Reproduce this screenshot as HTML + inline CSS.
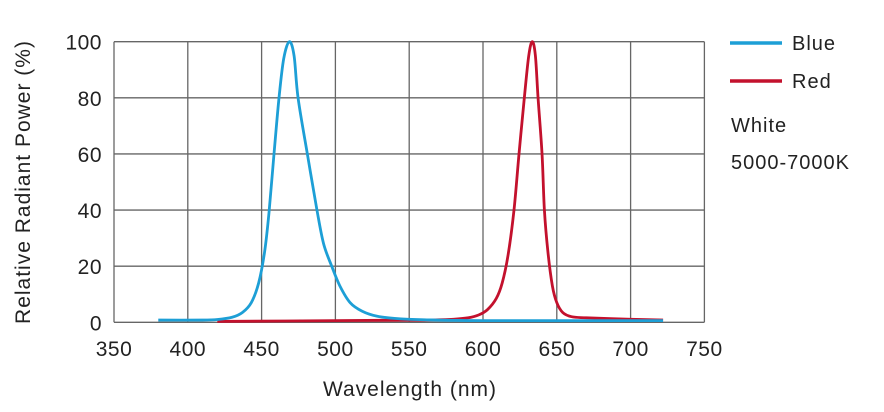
<!DOCTYPE html>
<html><head><meta charset="utf-8"><style>
body{margin:0;background:#fff;}
svg{display:block;font-family:"Liberation Sans",sans-serif;fill:#222;}
</style></head><body>
<svg id="chart" width="884" height="412" viewBox="0 0 884 412">
<g id="grid"></g>
<g id="yticks" font-size="21" text-anchor="end" letter-spacing="0.5"></g>
<g id="xticks" font-size="21" text-anchor="middle" letter-spacing="0.5"></g>
<g id="series"></g>
<text transform="translate(30,182) rotate(-90)" text-anchor="middle" font-size="21" letter-spacing="1">Relative Radiant Power (%)</text>
<text x="410" y="396" text-anchor="middle" font-size="21" letter-spacing="1">Wavelength (nm)</text>
<g font-size="20" letter-spacing="1">
<line x1="730" y1="43" x2="782" y2="43" stroke="#1d9fd6" stroke-width="3.5"/>
<text x="792" y="50">Blue</text>
<line x1="730" y1="81" x2="782" y2="81" stroke="#c3112d" stroke-width="3.5"/>
<text x="792" y="88">Red</text>
<text x="731" y="132">White</text>
<text x="731" y="169">5000-7000K</text>
</g>
</svg>
<script>
const xTicks=[350,400,450,500,550,600,650,700,750];
const yTicks=[0,20,40,60,80,100];
const blueWl=[380,410,420,430,437,443,448,452,455,458.4,461.8,465,468.8,472,474.7,481,487.5,492,497.5,503,510,518,528,540,560,600,722];
const blueVal=[0.8,0.8,1,1.8,3.5,7,14,25,39,60,80,94,100,95,80,60,40,28,20,13,7,4,2.2,1.4,0.9,0.6,0.6];
const redWl=[420,500,560,580,590,597,603,609,613,617,621,624.4,628,631,633.4,635.5,637.3,640,641.6,644,647,650,654,660,670,700,722];
const redVal=[0.3,0.6,0.8,1.1,1.6,2.6,4.5,8.5,14,24,40,60,80,95,100,95,80,60,40,25,13,7,3.5,2,1.6,1.1,0.8];
const X0=114,X1=704.4,Y0=322.3,Y1=41.7;
const xs=v=>X0+(v-350)/400*(X1-X0);
const ys=v=>Y0-v/100*(Y0-Y1);
const NS="http://www.w3.org/2000/svg";
const grid=document.getElementById('grid');
xTicks.forEach(t=>{
 const l=document.createElementNS(NS,'line');
 
 
 l.setAttribute('x1',xs(t));l.setAttribute('x2',xs(t));l.setAttribute('y1',ys(100));l.setAttribute('y2',ys(0));
 l.setAttribute('stroke','#666');l.setAttribute('stroke-width','1.3');grid.appendChild(l);
 const tx=document.createElementNS(NS,'text');
 
 
 tx.setAttribute('x',xs(t));tx.setAttribute('y',356);tx.textContent=t;
 document.getElementById('xticks').appendChild(tx);
});
yTicks.forEach(t=>{
 const l=document.createElementNS(NS,'line');
 
 
 l.setAttribute('x1',X0);l.setAttribute('x2',X1);l.setAttribute('y1',ys(t));l.setAttribute('y2',ys(t));
 l.setAttribute('stroke','#666');l.setAttribute('stroke-width','1.3');grid.appendChild(l);
 const tx=document.createElementNS(NS,'text');
 
 
 tx.setAttribute('x',102);tx.setAttribute('y',ys(t)+8);tx.textContent=t;
 document.getElementById('yticks').appendChild(tx);
});
function smooth(wl,val){
 const p=wl.map((w,i)=>[xs(w),ys(val[i])]);
 let d='M'+p[0][0]+','+p[0][1];
 for(let i=0;i<p.length-1;i++){
  const a=p[i-1]||p[i],b=p[i],c=p[i+1],e=p[i+2]||c;
  const t=1/6;
  d+=' C'+(b[0]+(c[0]-a[0])*t)+','+(b[1]+(c[1]-a[1])*t)+' '+(c[0]-(e[0]-b[0])*t)+','+(c[1]-(e[1]-b[1])*t)+' '+c[0]+','+c[1];
 }
 return d;
}
const ser=document.getElementById('series');
const red=document.createElementNS(NS,'path');


red.setAttribute('d',smooth(redWl,redVal));red.setAttribute('fill','none');red.setAttribute('stroke','#c3112d');red.setAttribute('stroke-width','2.8');
ser.appendChild(red);
const blue=document.createElementNS(NS,'path');


blue.setAttribute('d',smooth(blueWl,blueVal));blue.setAttribute('fill','none');blue.setAttribute('stroke','#1d9fd6');blue.setAttribute('stroke-width','2.8');
ser.appendChild(blue);
</script>
</body></html>
